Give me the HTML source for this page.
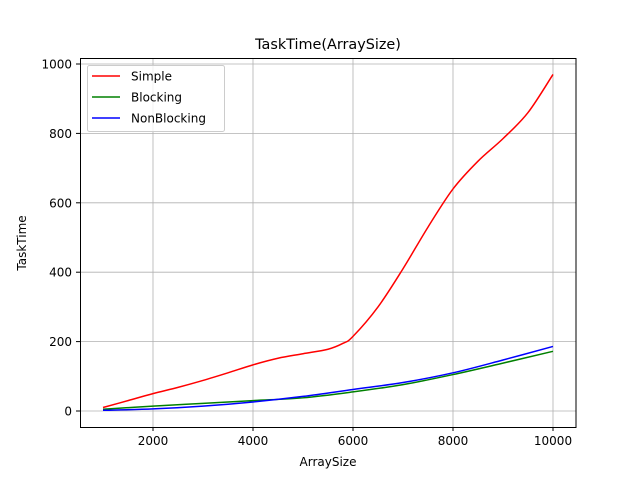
<!DOCTYPE html>
<html><head><meta charset="utf-8"><style>body{margin:0;background:#fff}svg{display:block;font-family:"DejaVu Sans","Liberation Sans",sans-serif}</style></head>
<body>
<svg id="c" width="640" height="480" viewBox="0 0 640 480">
<rect width="640" height="480" fill="#fff"/>
<text x="328" y="49" font-size="14.4" text-anchor="middle">TaskTime(ArraySize)</text>
<g id="grid"></g><g id="ticks"></g><g id="lines"></g>
<rect x="80.5" y="58.5" width="495.5" height="369" fill="none" stroke="#000" stroke-width="1"/>
<text x="328" y="466" font-size="12" text-anchor="middle">ArraySize</text>
<text transform="translate(26,243) rotate(-90)" font-size="12" text-anchor="middle">TaskTime</text>
<g>
<rect x="87.5" y="65.5" width="137" height="66" rx="2" fill="#fff" fill-opacity="0.8" stroke="#ccc"/>
<g id="leg"></g>
</g>
</svg>
<script>
const xs = [1000,1500,2000,2500,3000,3500,4000,4500,5000,5500,5800,6000,6500,7000,7500,8000,8500,9000,9500,10000];
const simple = [10,30,50,68,88,110,133,152,165,178,195,215,300,410,530,640,720,785,860,970];
const xb = [1000,2000,3000,4000,5000,6000,7000,8000,9000,10000];
const blocking = [5,14,22,30,38,55,76,105,138,172];
const nonBlocking = [2,6,14,26,42,62,82,110,147,186];
const xTicks = [2000,4000,6000,8000,10000];
const yTicks = [0,200,400,600,800,1000];
const names = ['Simple','Blocking','NonBlocking'];
const colors = ['#ff0000','#008000','#0000ff'];
const NS='http://www.w3.org/2000/svg';
const X=v=>53+v*0.05, Y=v=>411-v*0.347;
function mk(t,a,p){const e=document.createElementNS(NS,t);for(const k in a)e.setAttribute(k,a[k]);p.appendChild(e);return e;}
function smooth(P){
 let d='M'+P[0][0]+','+P[0][1];
 for(let i=0;i<P.length-1;i++){
  const p0=P[Math.max(0,i-1)],p1=P[i],p2=P[i+1],p3=P[Math.min(P.length-1,i+2)];
  const c1=[p1[0]+(p2[0]-p0[0])/6,p1[1]+(p2[1]-p0[1])/6];
  const c2=[p2[0]-(p3[0]-p1[0])/6,p2[1]-(p3[1]-p1[1])/6];
  d+=' C'+c1[0]+','+c1[1]+' '+c2[0]+','+c2[1]+' '+p2[0]+','+p2[1];
 }
 return d;
}
const grid=document.getElementById('grid'),ticks=document.getElementById('ticks'),lines=document.getElementById('lines'),leg=document.getElementById('leg');
xTicks.forEach(v=>{
 const gl=mk('line',{x1:X(v),x2:X(v),y1:58,y2:427,stroke:'#b0b0b0','stroke-width':0.8},grid);
 
 mk('line',{x1:X(v),x2:X(v),y1:427,y2:431,stroke:'#000'},ticks);
 const t=mk('text',{x:X(v),y:445,'font-size':12,'text-anchor':'middle'},ticks);t.textContent=v;
 
});
yTicks.forEach(v=>{
 const gl=mk('line',{x1:80,x2:576,y1:Y(v),y2:Y(v),stroke:'#b0b0b0','stroke-width':0.8},grid);
 
 mk('line',{x1:76,x2:80,y1:Y(v),y2:Y(v),stroke:'#000'},ticks);
 const t=mk('text',{x:72,y:Y(v)+4.5,'font-size':12,'text-anchor':'end'},ticks);t.textContent=v;
 
});
[[xs,simple],[xb,blocking],[xb,nonBlocking]].forEach((s,i)=>{
 const pts=s[0].map((x,j)=>[X(x),Y(s[1][j])]);
 const p=mk('path',{d:smooth(pts),fill:'none',stroke:colors[i],'stroke-width':1.5,'stroke-linejoin':'round'},lines);
 
 const y=76+i*21;
 mk('line',{x1:92,x2:120,y1:y,y2:y,stroke:colors[i],'stroke-width':1.5},leg);
 const t=mk('text',{x:131,y:y+4.5,'font-size':12},leg);t.textContent=names[i];
 
});
</script>
</body></html>
